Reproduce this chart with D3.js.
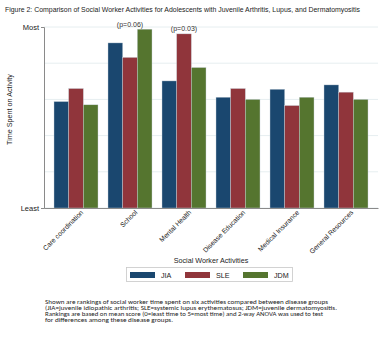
<!DOCTYPE html>
<html>
<head>
<meta charset="utf-8">
<script src="https://cdn.jsdelivr.net/npm/d3@7"></script>
<style>
  body { margin: 0; background: #fff; }
  text { font-family: "Liberation Sans", Arial, sans-serif; }
</style>
</head>
<body>
<div id="chart"></div>
<script>
// data (0 = least time, 5 = most time)
const activities = ["Care coordination", "School", "Mental Health", "Disease Education", "Medical Insurance", "General Resources"];
const groups = ["JIA", "SLE", "JDM"];
const jia = [2.94, 4.56, 3.51, 3.06, 3.28, 3.40];
const sle = [3.30, 4.16, 4.81, 3.30, 2.83, 3.20];
const jdm = [2.85, 4.94, 3.88, 3.00, 3.06, 3.00];
const pValues = [null, "(p=0.06)", "(p=0.03)", null, null, null];
const yTicks = [0, 5];
const yTickLabels = ["Least", "Most"];
const gridValues = [0, 1, 2, 3, 4, 5];
const noteLines = [
    "Shown are rankings of social worker time spent on six activities compared between disease groups",
    "(JIA=juvenile idiopathic arthritis; SLE=systemic lupus erythematosus; JDM=juvenile dermatomyositis.",
    "Rankings are based on mean score (0=least time to 5=most time) and 2-way ANOVA was used to test",
    "for differences among these disease groups."
];
const noteWidths = [283, 292, 278, 128];

const W = 389, H = 359;
const margin = { top: 27, right: 11, bottom: 151, left: 44 };
const width = W - margin.left - margin.right,
    height = H - margin.top - margin.bottom;

const colors = d3.scaleOrdinal().domain(groups).range(["#1a476f", "#90353b", "#55752f"]);
const series = [jia, sle, jdm];

const svg = d3.select("#chart").append("svg")
    .attr("width", W).attr("height", H);

svg.append("text")
    .attr("x", 5).attr("y", 12)
    .attr("textLength", 355).attr("lengthAdjust", "spacingAndGlyphs")
    .style("font-size", "7.4px").style("fill", "#222")
    .text("Figure 2: Comparison of Social Worker Activities for Adolescents with Juvenile Arthritis, Lupus, and Dermatomyositis");

const g = svg.append("g")
    .attr("transform", "translate(" + margin.left + "," + margin.top + ")");

const x = d3.scaleBand().domain(activities).range([0, width])
    .paddingInner(10 / 54).paddingOuter(10 / 54);
const xSub = d3.scaleBand().domain(groups).range([0, x.bandwidth()]);
const y = d3.scaleLinear().domain([0, 5]).range([height, 0]);

// grid
g.selectAll(".grid").data(gridValues).enter().append("line")
    .attr("x1", 0).attr("x2", width)
    .attr("y1", d => y(d)).attr("y2", d => y(d))
    .attr("stroke", "#e6eef0").attr("stroke-width", 1);

// bars
groups.forEach((grp, gi) => {
    g.selectAll(".bar-" + grp).data(series[gi]).enter().append("rect")
        .attr("x", (d, i) => x(activities[i]) + xSub(grp))
        .attr("y", d => y(d))
        .attr("width", xSub.bandwidth())
        .attr("height", d => height - y(d))
        .attr("fill", colors(grp))
        .attr("stroke", "#c9d3da").attr("stroke-width", 0.4);
});

// p values
g.selectAll(".pval").data(activities).enter().filter((d, i) => pValues[i])
    .append("text")
    .attr("x", d => x(d) + x.bandwidth() / 2)
    .attr("y", (d) => {
        const i = activities.indexOf(d);
        return y(Math.max(jia[i], sle[i], jdm[i])) - 2.5;
    })
    .attr("text-anchor", "middle")
    .style("font-size", "7px").style("fill", "#333")
    .text(d => pValues[activities.indexOf(d)]);

// y axis
const yAxis = g.append("g")
    .call(d3.axisLeft(y).tickValues(yTicks).tickSize(3).tickPadding(2)
        .tickFormat((d, i) => yTickLabels[i]));
yAxis.select(".domain").attr("stroke", "#8a8a8a");
yAxis.selectAll(".tick line").attr("stroke", "#8a8a8a");
yAxis.selectAll(".tick text").style("font-size", "7.5px").style("fill", "#222")
    .style("font-family", "'Liberation Sans', Arial, sans-serif");

// x axis
const xAxis = g.append("g")
    .attr("transform", "translate(0," + height + ")")
    .call(d3.axisBottom(x).tickSize(0).tickPadding(3));
xAxis.select(".domain").attr("stroke", "#8a8a8a");
xAxis.selectAll(".tick text")
    .style("font-size", "6.8px").style("fill", "#222")
    .style("font-family", "'Liberation Sans', Arial, sans-serif")
    .attr("text-anchor", "end")
    .attr("dx", "2").attr("dy", "6")
    .attr("transform", "rotate(-45)");

// axis titles
svg.append("text")
    .attr("transform", "translate(12,109.5) rotate(-90)")
    .attr("text-anchor", "middle")
    .style("font-size", "7.2px").style("fill", "#222")
    .text("Time Spent on Activity");

svg.append("text")
    .attr("x", margin.left + width / 2).attr("y", 263)
    .attr("text-anchor", "middle")
    .style("font-size", "7.2px").style("fill", "#222")
    .text("Social Worker Activities");

// legend
const legend = svg.append("g");
legend.append("rect")
    .attr("x", 126.5).attr("y", 267.5).attr("width", 166).attr("height", 14)
    .attr("fill", "#fff").attr("stroke", "#c8c8c8").attr("stroke-width", 0.8);
const legendX = [130, 185, 243];
groups.forEach((grp, i) => {
    legend.append("rect")
        .attr("x", legendX[i]).attr("y", 272).attr("width", 25).attr("height", 6)
        .attr("fill", colors(grp));
    legend.append("text")
        .attr("x", legendX[i] + 31).attr("y", 277.5)
        .style("font-size", "7.2px").style("fill", "#222")
        .text(grp);
});

// note
svg.selectAll(".note").data(noteLines).enter().append("text")
    .attr("x", 45).attr("y", (d, i) => 303.5 + i * 6.3)
    .attr("textLength", (d, i) => noteWidths[i]).attr("lengthAdjust", "spacingAndGlyphs")
    .style("font-size", "5.4px").style("fill", "#222")
    .style("font-family", "Carlito, 'Open Sans', 'Liberation Sans', sans-serif")
    .text(d => d);
</script>
</body>
</html>
